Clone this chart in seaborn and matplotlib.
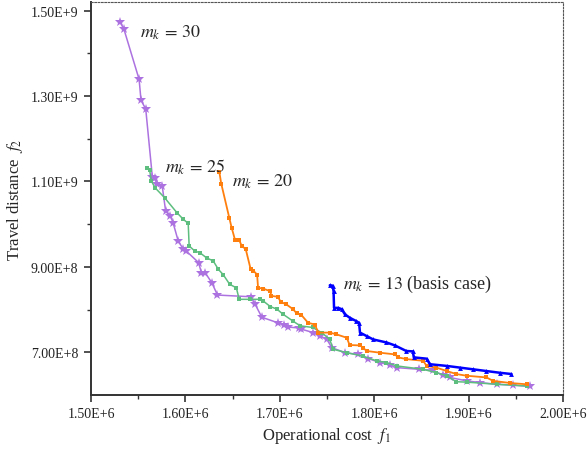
import numpy as np
import pandas as pd
import seaborn as sns
import matplotlib.pyplot as plt
from matplotlib.ticker import FixedLocator, FuncFormatter

# Pareto fronts: operational cost (x1e6) vs travel distance (x1e8)
m30_cost = [1.531, 1.535, 1.551, 1.553, 1.558, 1.565, 1.568, 1.5695, 1.5755, 1.579,
            1.584, 1.587, 1.5925, 1.598, 1.601, 1.614, 1.617, 1.621, 1.628, 1.634,
            1.669, 1.674, 1.681, 1.698, 1.704, 1.709, 1.720, 1.723, 1.7355, 1.743,
            1.750, 1.755, 1.769, 1.783, 1.794, 1.806, 1.817, 1.824, 1.848, 1.862,
            1.873, 1.880, 1.898, 1.912, 1.930, 1.947, 1.965]
m30_dist = [14.73, 14.56, 13.39, 12.90, 12.70, 11.11, 11.07, 10.93, 10.89, 10.32,
            10.20, 10.03, 9.60, 9.41, 9.37, 9.10, 8.86, 8.86, 8.63, 8.34,
            8.30, 8.12, 7.82, 7.69, 7.64, 7.59, 7.57, 7.54, 7.46, 7.38,
            7.30, 7.11, 6.99, 6.95, 6.85, 6.76, 6.70, 6.64, 6.60, 6.58,
            6.46, 6.41, 6.33, 6.29, 6.25, 6.23, 6.20]

m25_cost = [1.559, 1.562, 1.564, 1.568, 1.578, 1.591, 1.598, 1.603, 1.604, 1.610,
            1.6155, 1.6225, 1.6295, 1.635, 1.640, 1.647, 1.654, 1.657, 1.668, 1.679,
            1.6825, 1.690, 1.697, 1.7035, 1.714, 1.7215, 1.735, 1.745, 1.753, 1.7565,
            1.771, 1.788, 1.8025, 1.813, 1.824, 1.852, 1.866, 1.877, 1.887, 1.898,
            1.930, 1.9615]
m25_dist = [11.32, 11.28, 11.01, 10.85, 10.62, 10.27, 10.11, 10.02, 9.49, 9.37,
            9.33, 9.21, 9.14, 8.94, 8.82, 8.59, 8.51, 8.24, 8.24, 8.24,
            8.20, 8.07, 8.01, 7.89, 7.73, 7.62, 7.58, 7.45, 7.30, 7.07,
            6.99, 6.91, 6.80, 6.76, 6.68, 6.60, 6.52, 6.45, 6.31, 6.30,
            6.25, 6.21]

m20_cost = [1.636, 1.638, 1.6465, 1.649, 1.6525, 1.657, 1.6595, 1.664, 1.669, 1.672,
            1.676, 1.677, 1.6825, 1.690, 1.691, 1.698, 1.701, 1.707, 1.714, 1.718,
            1.723, 1.730, 1.737, 1.741, 1.753, 1.760, 1.771, 1.774, 1.785, 1.788,
            1.792, 1.806, 1.822, 1.8255, 1.834, 1.852, 1.8555, 1.866, 1.877, 1.887,
            1.898, 1.919, 1.926, 1.944, 1.9615]
m20_dist = [11.22, 10.95, 10.15, 9.92, 9.64, 9.63, 9.50, 9.41, 8.96, 8.91,
            8.82, 8.51, 8.49, 8.43, 8.32, 8.30, 8.18, 8.12, 8.01, 7.91,
            7.87, 7.69, 7.65, 7.46, 7.46, 7.42, 7.34, 7.17, 7.16, 7.11,
            7.03, 6.99, 6.95, 6.88, 6.84, 6.80, 6.68, 6.64, 6.56, 6.49,
            6.45, 6.41, 6.33, 6.28, 6.25]

m13_cost = [1.753, 1.756, 1.757, 1.7575, 1.762, 1.7655, 1.769, 1.774, 1.781, 1.784,
            1.785, 1.792, 1.799, 1.813, 1.822, 1.834, 1.841, 1.842, 1.8555, 1.859,
            1.877, 1.891, 1.905, 1.919, 1.933, 1.9455]
m13_dist = [8.57, 8.56, 8.43, 8.04, 8.04, 8.01, 7.89, 7.81, 7.73, 7.69,
            7.46, 7.38, 7.30, 7.23, 7.16, 7.03, 7.02, 6.88, 6.85, 6.72,
            6.68, 6.64, 6.60, 6.56, 6.52, 6.49]

x_ticks = [1.50e6, 1.60e6, 1.70e6, 1.80e6, 1.90e6, 2.00e6]
y_ticks = [7.0e8, 9.0e8, 1.1e9, 1.3e9, 1.5e9]

series = [
    ("m30", m30_cost, m30_dist, "#AC72E0", "*", 7, 1.1),
    ("m25", m25_cost, m25_dist, "#5DBE7F", "s", 3.5, 1.1),
    ("m20", m20_cost, m20_dist, "#FF7F0E", "s", 3.5, 1.3),
    ("m13", m13_cost, m13_dist, "#0000FF", "^", 3.5, 1.8),
]

sns.set_style("ticks")
plt.rcParams["font.family"] = ["Liberation Serif", "DejaVu Serif"]
plt.rcParams["mathtext.fontset"] = "stix"

fig = plt.figure(figsize=(5.87, 4.52), dpi=100)
ax = fig.add_axes([0.155, 0.124, 0.804, 0.869])

for name, cost, dist, color, marker, ms, lw in series:
    df = pd.DataFrame({"cost": np.array(cost) * 1e6, "dist": np.array(dist) * 1e8})
    sns.lineplot(data=df, x="cost", y="dist", sort=False, estimator=None,
                 color=color, marker=marker, markersize=ms, linewidth=lw,
                 markeredgewidth=0, ax=ax)

ax.set_xlim(1.5e6, 2.0e6)
ax.set_ylim(6.0e8, 1.52e9)
ax.xaxis.set_major_locator(FixedLocator(x_ticks))
ax.xaxis.set_minor_locator(FixedLocator([t + 5e4 for t in x_ticks[:-1]]))
ax.yaxis.set_major_locator(FixedLocator(y_ticks))
ax.yaxis.set_minor_locator(FixedLocator([t + 1e8 for t in y_ticks[:-1]]))


def sci_fmt(v, pos):
    s = f"{v:.2E}"
    mant, exp = s.split("E")
    return f"{mant}E+{int(exp)}"


ax.xaxis.set_major_formatter(FuncFormatter(sci_fmt))
ax.yaxis.set_major_formatter(FuncFormatter(sci_fmt))
ax.tick_params(axis="both", which="major", direction="out", length=5, width=1.2,
               labelsize=10, color="#333333", labelcolor="#222222", pad=4)
ax.tick_params(axis="both", which="minor", direction="out", length=3, width=1.0,
               color="#333333")

for side in ["left", "bottom"]:
    ax.spines[side].set_linewidth(1.4)
    ax.spines[side].set_color("#333333")
for side in ["top", "right"]:
    ax.spines[side].set_visible(True)
    ax.spines[side].set_linestyle((0, (1.5, 1.5)))
    ax.spines[side].set_linewidth(0.8)
    ax.spines[side].set_color("#555555")

ax.set_xlabel(r"Operational cost  $f_1$", fontsize=12, labelpad=3)
ax.set_ylabel(r"Travel distance  $f_2$", fontsize=12, labelpad=4)

ax.text(1.552e6, 1.451e9, r"$m_k\,=\,30$", fontsize=13, va="center")
ax.text(1.578e6, 1.135e9, r"$m_k\,=\,25$", fontsize=13, va="center")
ax.text(1.649e6, 1.102e9, r"$m_k\,=\,20$", fontsize=13, va="center")
ax.text(1.767e6, 8.61e8, r"$m_k\,=\,13$" + " (basis case)", fontsize=13, va="center")

fig.savefig("out.png", dpi=100)
